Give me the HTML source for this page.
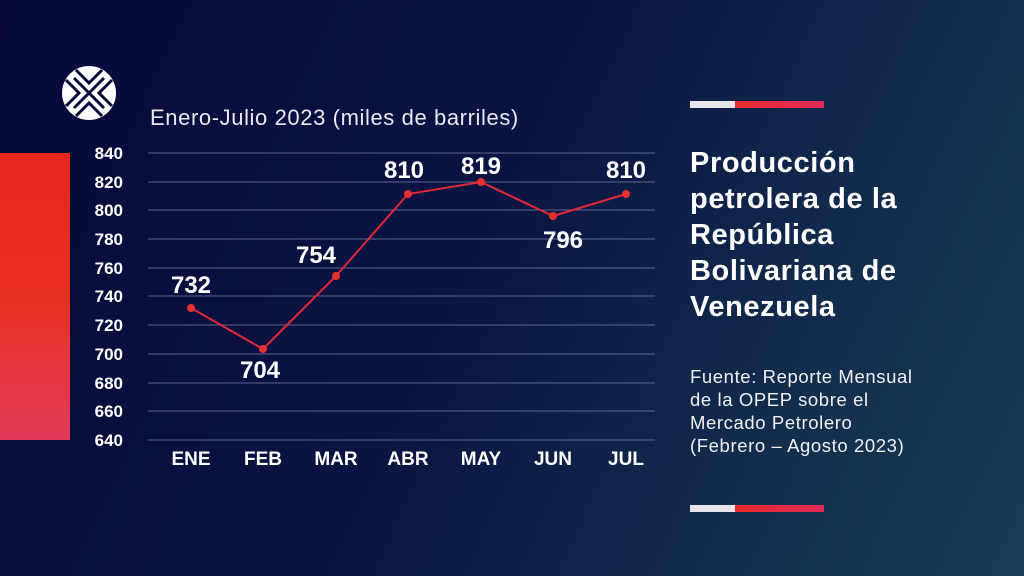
<!DOCTYPE html>
<html><head><meta charset="utf-8"><style>
body{margin:0;width:1024px;height:576px;overflow:hidden;background:linear-gradient(115deg,#06093a 0%,#0a1442 45%,#14304e 80%,#1b3a52 100%);font-family:"Liberation Sans",Arial,sans-serif;color:#fff;position:relative}
.a{position:absolute;white-space:nowrap}
</style></head><body>
<div class="a" style="left:0;top:153px;width:70px;height:287px;background:linear-gradient(180deg,#e8261f 0%,#e8301f 50%,#e33a5a 100%)"></div>
<svg class="a" style="left:60px;top:64px" width="58" height="58" viewBox="0 0 58 58">
<circle cx="29" cy="29" r="27" fill="#fff"/>
<g stroke="#06093a" stroke-width="3" fill="none">
<path d="M6 16 L19 29 L6 42"/><path d="M52 16 L39 29 L52 42"/>
<path d="M16 6 L29 19 L42 6"/><path d="M16 52 L29 39 L42 52"/>
<path d="M14 14 L44 44"/><path d="M44 14 L14 44"/>
</g></svg>
<div class="a" style="left:150px;top:105px;font-size:22px;letter-spacing:0.6px;color:#e8e8ee">Enero-Julio 2023 (miles de barriles)</div>
<svg class="a" style="left:0;top:0" width="680" height="576" font-family="Liberation Sans,Arial,sans-serif" font-weight="bold">
<g stroke="#7a80a8" stroke-width="0.8">
<line x1="148" x2="655" y1="153" y2="153"/><line x1="148" x2="655" y1="182" y2="182"/><line x1="148" x2="655" y1="210" y2="210"/><line x1="148" x2="655" y1="239" y2="239"/><line x1="148" x2="655" y1="268" y2="268"/><line x1="148" x2="655" y1="296" y2="296"/><line x1="148" x2="655" y1="325" y2="325"/><line x1="148" x2="655" y1="354" y2="354"/><line x1="148" x2="655" y1="383" y2="383"/><line x1="148" x2="655" y1="411" y2="411"/><line x1="148" x2="655" y1="440" y2="440"/>
</g>
<g fill="#fff" font-size="17" text-anchor="end">
<text x="123" y="159">840</text><text x="123" y="188">820</text><text x="123" y="216">800</text><text x="123" y="245">780</text><text x="123" y="274">760</text><text x="123" y="302">740</text><text x="123" y="331">720</text><text x="123" y="360">700</text><text x="123" y="389">680</text><text x="123" y="417">660</text><text x="123" y="446">640</text>
</g>
<g fill="#fff" font-size="19" text-anchor="middle">
<text x="191" y="465">ENE</text><text x="263" y="465">FEB</text><text x="336" y="465">MAR</text><text x="408" y="465">ABR</text><text x="481" y="465">MAY</text><text x="553" y="465">JUN</text><text x="626" y="465">JUL</text>
</g>
<polyline fill="none" stroke="#e0283a" stroke-width="2" points="191,308 263,349 336,276 408,194 481,182 553,216 626,194"/>
<g fill="#e83030"><circle cx="191" cy="308" r="4"/><circle cx="263" cy="349" r="4"/><circle cx="336" cy="276" r="4"/><circle cx="408" cy="194" r="4"/><circle cx="481" cy="182" r="4"/><circle cx="553" cy="216" r="4"/><circle cx="626" cy="194" r="4"/></g>
<g fill="#fff" font-size="24" text-anchor="middle">
<text x="191" y="293">732</text><text x="260" y="378">704</text><text x="316" y="263">754</text><text x="404" y="178">810</text><text x="481" y="174">819</text><text x="563" y="248">796</text><text x="626" y="178">810</text>
</g>
</svg>
<div class="a" style="left:690px;top:101px;width:45px;height:7px;background:#e6e6ea"></div>
<div class="a" style="left:735px;top:101px;width:89px;height:7px;background:linear-gradient(90deg,#e82a2a,#e02a5a)"></div>
<div class="a" style="left:690px;top:505px;width:45px;height:7px;background:#e6e6ea"></div>
<div class="a" style="left:735px;top:505px;width:89px;height:7px;background:linear-gradient(90deg,#e82a2a,#e02a5a)"></div>
<div class="a" style="left:690px;top:145px;font-size:29px;letter-spacing:0.6px;font-weight:bold;line-height:36px">Producción<br>petrolera de la<br>República<br>Bolivariana de<br>Venezuela</div>
<div class="a" style="left:690px;top:365px;font-size:18.5px;letter-spacing:0.6px;line-height:23px;color:#f0f0f4">Fuente: Reporte Mensual<br>de la OPEP sobre el<br>Mercado Petrolero<br>(Febrero – Agosto 2023)</div>
</body></html>
